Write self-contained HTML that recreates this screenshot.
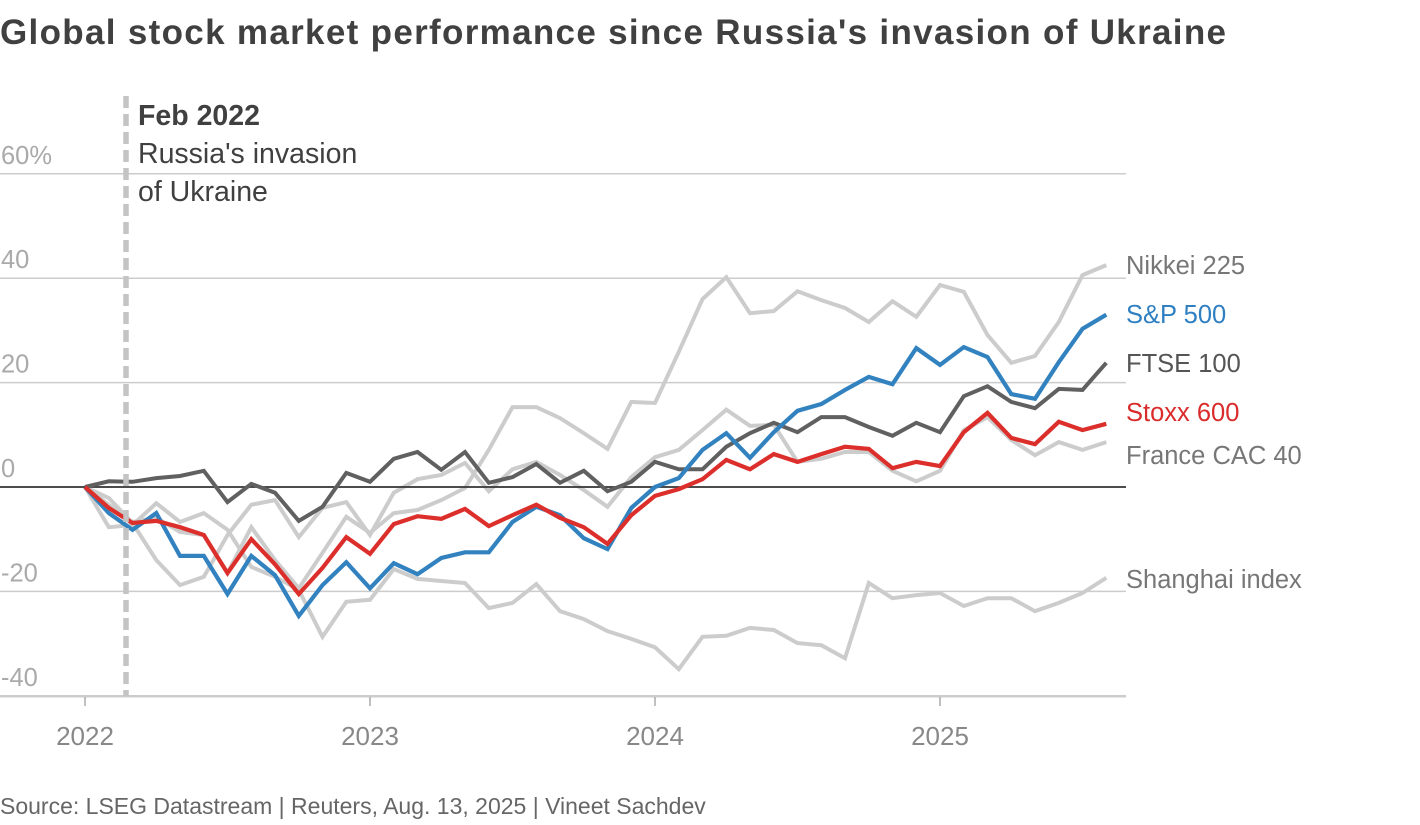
<!DOCTYPE html>
<html><head><meta charset="utf-8">
<style>
html,body{margin:0;padding:0;background:#fff;}
body{width:1420px;height:820px;overflow:hidden;font-family:"Liberation Sans",sans-serif;}
svg text{font-family:"Liberation Sans",sans-serif;}
</style></head>
<body>
<svg id="chart" width="1420" height="820" viewBox="0 0 1420 820" xmlns="http://www.w3.org/2000/svg">
<text x="0" y="44" font-size="35" font-weight="bold" fill="#404040" textLength="1226" lengthAdjust="spacing">Global stock market performance since Russia's invasion of Ukraine</text>
<g id="grid"></g>
<g id="series"></g>
<g id="labels"></g>
<text x="0" y="814" font-size="23" fill="#666">Source: LSEG Datastream | Reuters, Aug. 13, 2025 | Vineet Sachdev</text>
</svg>
<script>
const yTicks = [60, 40, 20, 0, -20, -40];
const yTickLabels = ["60%", "40", "20", "0", "-20", "-40"];
const xYears = [2022, 2023, 2024, 2025];
const sp500 = [0,-5.0,-8.2,-5.0,-13.2,-13.2,-20.5,-13.2,-16.9,-24.7,-18.8,-14.4,-19.4,-14.6,-16.7,-13.6,-12.5,-12.5,-6.7,-3.8,-5.4,-9.8,-11.9,-4.0,0,1.7,7.1,10.3,5.6,10.5,14.6,15.9,18.6,21.1,19.7,26.6,23.4,26.8,24.9,17.8,16.9,23.9,30.3,33.0];
const stoxx600 = [0,-4.0,-6.9,-6.5,-7.7,-9.2,-16.5,-10.0,-14.8,-20.5,-15.5,-9.6,-12.8,-7.1,-5.6,-6.1,-4.2,-7.5,-5.4,-3.4,-5.9,-7.7,-10.9,-5.4,-1.7,-0.4,1.5,5.2,3.4,6.3,4.8,6.3,7.7,7.3,3.6,4.8,4.0,10.5,14.2,9.4,8.2,12.5,10.9,12.1];
const ftse100 = [0,1.1,1.0,1.7,2.1,3.1,-2.9,0.6,-1.1,-6.5,-3.8,2.7,1.0,5.4,6.7,3.3,6.7,0.8,1.9,4.4,0.8,3.1,-0.8,1.0,4.8,3.4,3.4,7.7,10.3,12.3,10.5,13.4,13.4,11.5,9.8,12.3,10.5,17.4,19.3,16.3,15.1,18.8,18.6,23.8];
const cac40 = [0,-2.1,-6.9,-14.0,-18.8,-17.2,-9.2,-3.4,-2.5,-9.6,-4.0,-2.9,-9.2,-1.1,1.5,2.3,4.6,-0.8,3.4,4.8,2.3,-0.6,-3.8,1.9,5.7,7.1,10.9,14.8,11.7,11.9,4.8,5.4,6.7,6.7,3.1,1.1,3.1,10.9,13.4,9.0,6.1,8.6,7.1,8.6];
const nikkei225 = [0,-3.4,-6.7,-5.9,-8.6,-9.2,-16.5,-7.7,-14.0,-19.4,-12.6,-5.7,-8.8,-5.0,-4.4,-2.5,-0.2,7.1,15.3,15.3,13.2,10.3,7.3,16.3,16.1,25.9,36.0,40.2,33.3,33.7,37.5,35.8,34.3,31.6,35.6,32.6,38.7,37.4,29.1,23.8,25.1,31.6,40.6,42.5];
const shanghai = [0,-7.7,-7.3,-3.1,-6.7,-5.0,-8.2,-15.3,-17.2,-19.7,-28.7,-22.0,-21.6,-15.7,-17.6,-18.0,-18.4,-23.2,-22.2,-18.6,-23.8,-25.3,-27.6,-29.1,-30.7,-34.9,-28.7,-28.5,-27.0,-27.4,-29.9,-30.3,-32.8,-18.4,-21.3,-20.7,-20.3,-22.8,-21.3,-21.3,-23.8,-22.2,-20.3,-17.4];

const NS = "http://www.w3.org/2000/svg";
const X0 = 85, MONTH = 23.75, Y0 = 487, PER = 5.22;
function xScale(i){ return X0 + i*MONTH; }
function xYear(yr){ return X0 + (yr-2022)*12*MONTH; }
function yScale(v){ return Y0 - v*PER; }
function mk(tag, attrs, parent){ const e=document.createElementNS(NS,tag); for(const k in attrs) e.setAttribute(k,attrs[k]); parent.appendChild(e); return e; }

const grid = document.getElementById('grid');
yTicks.forEach((t,i)=>{
  const y = yScale(t);
  if (t !== 0) {
    const l = mk('line',{x1:0,x2:1126,y1:y,y2:y,stroke:'#cccccc','stroke-width':1.5},grid);
    
    
  }
  const tx = mk('text',{x:1,y:y-10,'font-size':25.5,fill:'#aaaaaa'},grid);
  tx.textContent = yTickLabels[i];
  
  
});
const base = mk('line',{x1:0,x2:1126,y1:yScale(-40)+1,y2:yScale(-40)+1,stroke:'#cccccc','stroke-width':1.5},grid);


xYears.forEach(yr=>{
  const x = xYear(yr);
  const tk = mk('line',{x1:x,x2:x,y1:697,y2:706,stroke:'#aaaaaa','stroke-width':1.5},grid);
  
  
  const t = mk('text',{x:x,y:745,'font-size':26,fill:'#888888','text-anchor':'middle'},grid);
  t.textContent = yr;
  
  
});

const sg = document.getElementById('series');
function draw(arr, color, w, name){
  const d = arr.map((v,i)=>(i?'L':'M')+xScale(i).toFixed(1)+' '+yScale(v).toFixed(1)).join(' ');
  const p = mk('path',{d:d,fill:'none',stroke:color,'stroke-width':w,'stroke-linejoin':'miter'},sg);
  
  
}
draw(shanghai,'#cccccc',4,'shanghai-line');
draw(cac40,'#cccccc',4,'cac40-line');
draw(nikkei225,'#cccccc',4,'nikkei225-line');
const zl = mk('line',{x1:0,x2:1126,y1:yScale(0),y2:yScale(0),stroke:'#333333','stroke-width':1.8},sg);


draw(ftse100,'#606060',4,'ftse100-line');
draw(sp500,'#3282c0',4.2,'sp500-line');
draw(stoxx600,'#dc2f2b',4.2,'stoxx600-line');

const lg = document.getElementById('labels');
const ev = mk('line',{x1:126,x2:126,y1:96,y2:696,stroke:'#c4c4c4','stroke-width':5.5,'stroke-dasharray':'12 6'},lg);


[["Feb 2022",125,true],["Russia's invasion",163,false],["of Ukraine",201,false]].forEach(a=>{
  const t = mk('text',{x:138,y:a[1],'font-size':28.5,fill:'#404040','font-weight':a[2]?'bold':'normal'},lg);
  t.textContent = a[0];
  
  
});
[["Nikkei 225",274,'#777777'],["S&P 500",323,'#2f7fc1'],["FTSE 100",372,'#555555'],["Stoxx 600",421,'#d92b2b'],["France CAC 40",464,'#777777'],["Shanghai index",588,'#777777']].forEach(a=>{
  const t = mk('text',{x:1126,y:a[1],'font-size':25.5,fill:a[2]},lg);
  t.textContent = a[0];
  
  
});
</script>
</body></html>
